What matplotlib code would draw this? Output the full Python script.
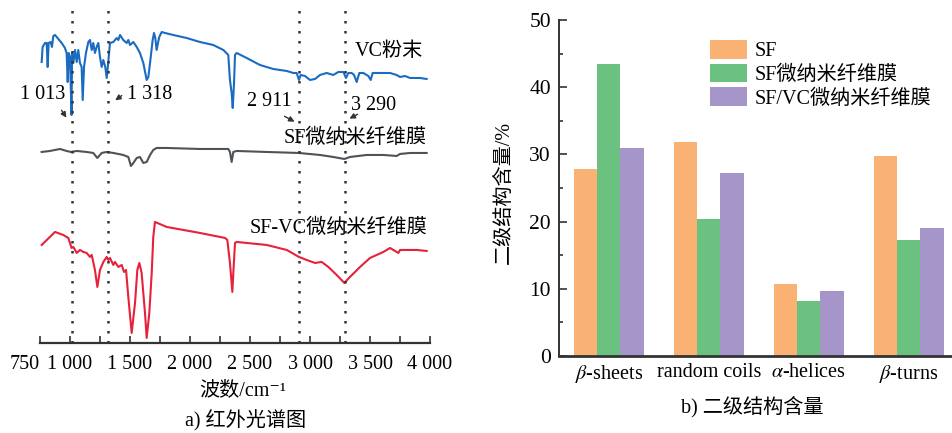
import matplotlib
matplotlib.use("Agg")
import matplotlib.pyplot as plt
import numpy as np

plt.rcParams['font.family'] = ['Liberation Serif', 'Noto Sans CJK SC', 'DejaVu Serif']
plt.rcParams['mathtext.fontset'] = 'stix'
plt.rcParams['font.size'] = 14

# ---- a) IR spectra (wavenumber, relative transmittance in a.u. with offsets) ----
vc_wn = [764, 772, 792, 806, 814, 822, 839, 850, 861, 875, 903, 931, 958, 972, 981, 989, 1000, 1013,
         1017, 1028, 1042, 1056, 1069, 1083, 1097, 1106, 1117, 1133, 1153, 1167, 1181, 1194, 1208, 1222,
         1236, 1250, 1264, 1278, 1294, 1306, 1317, 1333, 1361, 1389, 1403, 1417, 1444, 1472, 1486, 1500,
         1528, 1556, 1583, 1611, 1639, 1653, 1667, 1689, 1700, 1711, 1722, 1733, 1744, 1764, 1792, 1861,
         1972, 2083, 2194, 2278, 2319, 2333, 2347, 2356, 2367, 2375, 2389, 2472, 2583, 2694, 2806, 2861,
         2889, 2908, 2922, 2958, 3000, 3042, 3083, 3139, 3194, 3236, 3278, 3300, 3319, 3347, 3367, 3389,
         3411, 3444, 3486, 3506, 3522, 3583, 3667, 3722, 3750, 3792, 3833, 3917, 3972]
vc_t = [281, 296, 300, 300, 276, 300, 301, 296, 307, 308, 304, 300, 295, 290, 261, 290, 286, 228,
        290, 280, 293, 281, 293, 280, 276, 243, 276, 290, 301, 303, 293, 300, 290, 296,
        300, 286, 276, 283, 276, 265, 278, 300, 301, 305, 303, 308, 303, 300, 303, 298,
        301, 296, 290, 280, 263, 266, 280, 303, 310, 305, 293, 300, 306, 311, 310, 308,
        305, 301, 298, 293, 288, 263, 250, 235, 260, 288, 290, 285, 278, 274, 272, 270,
        270, 263, 268, 267, 263, 264, 268, 270, 268, 271, 271, 265, 270, 270, 268, 261,
        270, 270, 267, 263, 270, 270, 270, 268, 266, 267, 265, 265, 264]

sf_wn = [764, 833, 917, 972, 1008, 1056, 1139, 1194, 1228, 1264, 1306, 1361, 1444, 1486, 1508, 1528,
         1556, 1583, 1611, 1639, 1667, 1694, 1722, 1806, 2083, 2319, 2333, 2347, 2361, 2389, 2639,
         2908, 3083, 3194, 3286, 3333, 3472, 3611, 3722, 3750, 3833, 3972]
sf_t = [191, 192, 194, 192, 191, 192, 191, 190, 185, 190, 191, 190, 188, 186, 177, 180,
        185, 186, 180, 181, 188, 193, 195, 195, 194, 194, 191, 181, 191, 192, 191,
        190, 188, 186, 184, 186, 188, 188, 187, 189, 190, 190]

sfvc_wn = [764, 875, 944, 986, 1013, 1028, 1056, 1083, 1111, 1139, 1167, 1181, 1208, 1228, 1250, 1278,
           1306, 1319, 1333, 1361, 1375, 1403, 1431, 1450, 1467, 1486, 1514, 1542, 1561, 1578, 1597,
           1625, 1639, 1661, 1681, 1694, 1708, 1806, 2083, 2292, 2311, 2333, 2353, 2361, 2375, 2389,
           2639, 2806, 2908, 2972, 3042, 3097, 3153, 3222, 3286, 3333, 3417, 3500, 3611, 3667, 3736,
           3750, 3889, 3972]
sfvc_t = [98, 111, 108, 105, 95, 96, 90, 93, 91, 90, 86, 88, 73, 56, 73, 81,
          86, 83, 85, 78, 81, 76, 78, 71, 73, 46, 10, 40, 73, 80, 70,
          30, 5, 30, 70, 106, 121, 116, 110, 105, 103, 80, 51, 70, 100, 101,
          98, 93, 86, 83, 80, 81, 76, 68, 60, 66, 76, 85, 91, 95, 90,
          93, 93, 92]

marks = [1013, 1318, 2911, 3290]
x_ticks = np.arange(750, 4001, 250)
x_labels = {750: '750', 1000: '1 000', 1500: '1 500', 2000: '2 000', 2500: '2 500',
            3000: '3 000', 3500: '3 500', 4000: '4 000'}

# ---- b) secondary structure ----
structures = [r'$\beta$-sheets', 'random coils', r'$\alpha$-helices', r'$\beta$-turns']
sf_vals = [27.8, 31.9, 10.7, 29.8]
sf_film_vals = [43.5, 20.4, 8.2, 17.2]
sfvc_film_vals = [31.0, 27.3, 9.7, 19.1]
bar_names = ['SF', 'SF微纳米纤维膜', 'SF/VC微纳米纤维膜']
bar_colors = ['#f9b274', '#6bc180', '#a695c8']

fig = plt.figure(figsize=(9.52, 4.33), dpi=100)

# left panel
ax1 = fig.add_axes([0.042, 0.208, 0.4097, 0.792])
ax1.plot(vc_wn, vc_t, color='#1a6cc2', lw=1.5)
ax1.plot(sf_wn, sf_t, color='#4d5358', lw=1.5)
ax1.plot(sfvc_wn, sfvc_t, color='#e8213a', lw=1.5)
for m in marks:
    ax1.plot([m, m], [0, 335], color='#333333', lw=1.8, ls=(0, (1, 3)))
ax1.set_xlim(750, 4000)
ax1.set_ylim(0, 343)
for s in ['top', 'left', 'right']:
    ax1.spines[s].set_visible(False)
ax1.spines['bottom'].set_linewidth(1.6)
ax1.spines['bottom'].set_color('#333333')
ax1.set_yticks([])
ax1.set_xticks(x_ticks)
ax1.set_xticklabels([x_labels.get(int(t), '') for t in x_ticks])
ax1.tick_params(axis='x', direction='in', length=5, width=1.2, color='#333333', pad=9, labelsize=14.5)
lbl750 = ax1.get_xticklabels()[0]
lbl750.set_horizontalalignment('right')

ax1.text(3940, 291, 'VC粉末', ha='right', va='center', fontsize=14.5)
ax1.text(3975, 205, 'SF微纳米纤维膜', ha='right', va='center', fontsize=14.5)
ax1.text(3975, 115, 'SF-VC微纳米纤维膜', ha='right', va='center', fontsize=14.5)
ax1.text(771, 248, '1 013', ha='center', va='center', fontsize=14.5)
ax1.text(1662, 248, '1 318', ha='center', va='center', fontsize=14.5)
ax1.text(2662, 241, '2 911', ha='center', va='center', fontsize=14.5)
ax1.text(3529, 237, '3 290', ha='center', va='center', fontsize=14.5)
arrow = dict(arrowstyle='-|>', color='#333333', lw=1.0, mutation_scale=8)
ax1.annotate('', xy=(983, 223), xytext=(917, 235), arrowprops=arrow)
ax1.annotate('', xy=(1358, 241), xytext=(1450, 249), arrowprops=arrow)
ax1.annotate('', xy=(2892, 220), xytext=(2767, 228), arrowprops=arrow)
ax1.annotate('', xy=(3308, 223), xytext=(3417, 230), arrowprops=arrow)

fig.text(243 / 952, 1 - 391 / 433, '波数/cm⁻¹', ha='center', va='center', fontsize=14.5)
fig.text(246 / 952, 1 - 421 / 433, 'a) 红外光谱图', ha='center', va='center', fontsize=14.5)

# right panel
ax2 = fig.add_axes([0.5875, 0.1778, 0.4125, 0.776])
x = np.arange(len(structures))
w = 0.233
for i, (vals, c, n) in enumerate(zip([sf_vals, sf_film_vals, sfvc_film_vals], bar_colors, bar_names)):
    ax2.bar(x + (i - 1) * w, vals, width=w, color=c, label=n, edgecolor='none')
ax2.set_xlim(-0.494, 3.433)
ax2.set_ylim(0, 50)
ax2.set_yticks([0, 10, 20, 30, 40, 50])
ax2.set_yticks([5, 15, 25, 35, 45], minor=True)
ax2.tick_params(axis='y', which='major', direction='in', length=6, width=1.2, color='#333333', pad=6, labelsize=15.5)
ax2.tick_params(axis='y', which='minor', direction='in', length=3, width=1.2, color='#333333')
ax2.set_xticks(x)
ax2.set_xticklabels(structures)
ax2.tick_params(axis='x', length=0, pad=5, labelsize=14.5)
for s in ['top', 'right']:
    ax2.spines[s].set_visible(False)
for s in ['left', 'bottom']:
    ax2.spines[s].set_color('#333333')
ax2.spines['left'].set_linewidth(1.4)
ax2.spines['bottom'].set_linewidth(2.0)
ax2.legend(loc='upper left', bbox_to_anchor=(0.384, 0.94), frameon=False, fontsize=14.5,
           handlelength=1.85, handleheight=1.05, labelspacing=0.12, handletextpad=0.35,
           borderaxespad=0, borderpad=0)

fig.text(504 / 952, 1 - 192 / 433, '二级结构含量/%', ha='center', va='center', rotation=90, fontsize=14.5)
fig.text(752 / 952, 1 - 407 / 433, 'b) 二级结构含量', ha='center', va='center', fontsize=14.5)

fig.savefig('out.png', dpi=100)
